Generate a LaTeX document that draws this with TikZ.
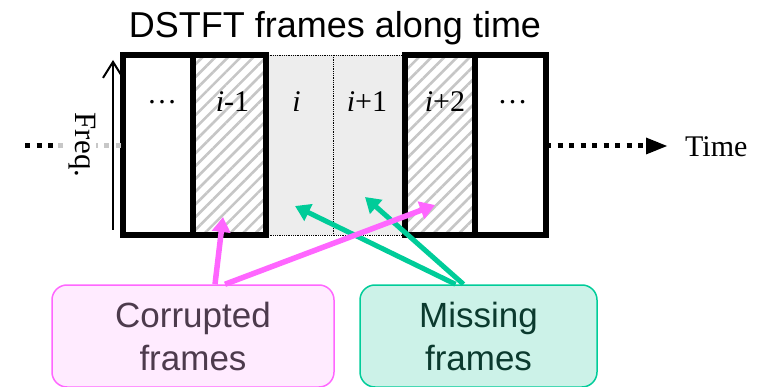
\documentclass[tikz,border=0pt]{standalone}
\usepackage{fontspec}
\setmainfont{Liberation Serif}
\setsansfont{Liberation Sans}
\usetikzlibrary{arrows.meta,patterns.meta,calc}

\definecolor{magline}{HTML}{FF66FF}
\definecolor{magfill}{HTML}{FFEBFF}
\definecolor{magtext}{HTML}{4D3B4D}
\definecolor{grnline}{HTML}{00CC99}
\definecolor{grnfill}{HTML}{CCF2E8}
\definecolor{grntext}{HTML}{0B3A2E}
\definecolor{gapfill}{HTML}{EDEDED}
\definecolor{hatch}{HTML}{C6C6C6}

\tikzset{
  col/.style={rectangle, minimum width=#1, minimum height=180pt, inner sep=0pt, outer sep=0pt},
  hatched/.style={pattern={Lines[angle=45,distance=9pt,line width=2.6pt]}, pattern color=hatch},
  gapcol/.style={fill=gapfill},
  frameline/.style={line width=5.5pt, line join=miter},
  thindot/.style={densely dotted, line width=0.8pt},
  idx/.style={font=\fontsize{30}{34}\selectfont, anchor=base, inner sep=0pt},
  bigdots/.style={line width=5pt, dash pattern=on 5pt off 6.5pt},
  callout/.style={rounded corners=15pt, line width=1.5pt, minimum width=#1, minimum height=102pt,
    inner sep=0pt, align=center, font=\sffamily\fontsize{35}{43}\selectfont},
  magarrow/.style={draw=magline, line width=5.5pt, -{Triangle[length=15pt,width=18pt]}},
  grnarrow/.style={draw=grnline, line width=5pt, -{Triangle[length=15pt,width=18pt]}},
}

\begin{document}
\begin{tikzpicture}[x=1pt, y=-1pt]
\useasboundingbox (0,0) rectangle (762,387);

% title
\node[font=\sffamily\fontsize{36}{40}\selectfont, anchor=base, inner sep=0pt] (title) at (335,38) {DSTFT frames along time};

% frame columns
\node[col=70] (c1) at (158,145) {};
\node[col=73, hatched] (c2) at (229.5,145) {};
\node[col=67, gapcol] (c3) at (299.5,145) {};
\node[col=72, gapcol] (c4) at (369,145) {};
\node[col=70, hatched] (c5) at (440,145) {};
\node[col=71] (c6) at (510.5,145) {};

% missing frames: thin dotted outline
\draw[thindot] (c3.north west) -- (c4.north east);
\draw[thindot] (c3.south west) -- (c4.south east);
\draw[thindot] (c3.north east) -- (c3.south east);

% received frames: thick outlines
\draw[frameline] (c1.north west) rectangle (c2.south east);
\draw[frameline] (c1.north east) -- (c1.south east);
\draw[frameline] (c5.north west) rectangle (c6.south east);
\draw[frameline] (c5.north east) -- (c5.south east);

% frame indices
\node[idx] (l1) at ($(c1.center)+(4,-41)$) {…};
\node[idx] (l2) at ($(c2.center)+(3,-33)$) {\textit{i}-1};
\node[idx] (l3) at ($(c3.center)+(-3,-33)$) {\textit{i}};
\node[idx] (l4) at ($(c4.center)+(-2,-33)$) {\textit{i}+1};
\node[idx] (l5) at ($(c5.center)+(5,-33)$) {\textit{i}+2};
\node[idx] (l6) at ($(c6.center)+(2,-41)$) {…};

% frequency axis
\coordinate (fbot) at (113,230);
\coordinate (ftop) at (113,60);

% time axis
\coordinate (tstart) at (25,146);
\coordinate (tmid) at (58,146);
\draw[bigdots] (tstart) -- (tmid);
\draw[bigdots, black!22] (tmid) -- (c1.west |- tmid);
\node[font=\fontsize{31}{34}\selectfont, rotate=-90, inner sep=1pt, fill=white] (freq) at (82,145) {Freq.};
\draw[line width=2pt, -{Straight Barb[length=16pt,width=20pt,line width=2pt]}] (fbot) -- (ftop);
\node[font=\fontsize{30}{34}\selectfont, anchor=base west, inner sep=0pt] (time) at (685,157) {Time};
\coordinate (tend) at (667,146);
\draw[bigdots] (c6.east |- tend) -- ($(tend)+(-20,0)$);
\fill ($(tend)+(-21,-8.5)$) -- (tend) -- ($(tend)+(-21,8.5)$) -- cycle;

% callouts
\node[callout=282, draw=magline, fill=magfill, text=magtext] (corr) at (193,336) {Corrupted\\frames};
\node[callout=237, draw=grnline, fill=grnfill, text=grntext] (miss) at (478.5,336) {Missing\\frames};

% pointers into the frames
\coordinate (pA) at (223,217);
\coordinate (pB) at (435,205);
\coordinate (pC) at (295,206);
\coordinate (pD) at (365,197);
\draw[grnarrow] ([xshift=-23pt]miss.north) -- (pC);
\draw[grnarrow] ([xshift=-15pt]miss.north) -- (pD);
\draw[magarrow] ([xshift=22pt]corr.north) -- (pA);
\draw[magarrow] ([xshift=32pt]corr.north) -- (pB);
\end{tikzpicture}
\end{document}
